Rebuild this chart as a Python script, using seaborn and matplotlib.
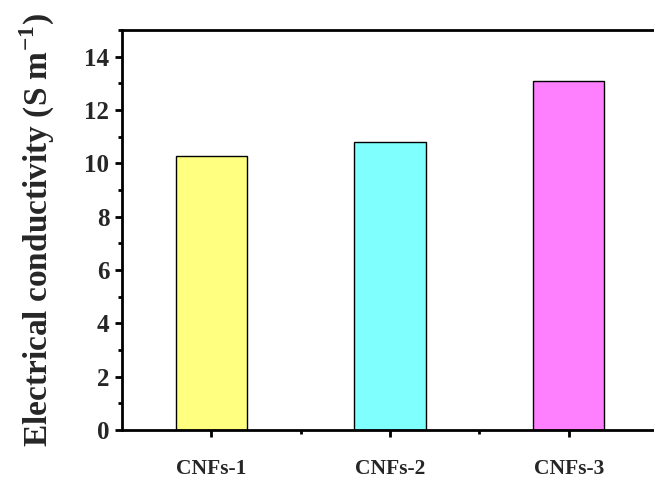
import numpy as np
import matplotlib
matplotlib.use("Agg")
import matplotlib.pyplot as plt
from matplotlib.ticker import MultipleLocator, FixedLocator
import seaborn as sns
import pandas as pd

samples = ["CNFs-1", "CNFs-2", "CNFs-3"]
conductivity = [10.28, 10.80, 13.08]
bar_colors = ["#FFFF80", "#80FFFF", "#FF80FF"]

sns.set_style("ticks")
plt.rcParams['font.family'] = ['Liberation Serif', 'DejaVu Serif']
plt.rcParams['font.weight'] = 'bold'
plt.rcParams['mathtext.fontset'] = 'custom'
plt.rcParams['mathtext.rm'] = 'Liberation Serif:bold'
plt.rcParams['mathtext.bf'] = 'Liberation Serif:bold'

df = pd.DataFrame({"sample": samples, "value": conductivity})

fig = plt.figure(figsize=(6.54, 4.84), dpi=100)
ax = fig.add_axes([0.1865, 0.1116, 0.8196, 0.8264])

sns.barplot(data=df, x="sample", y="value", hue="sample", palette=bar_colors,
            width=0.4, edgecolor="black", linewidth=1.0, saturation=1,
            legend=False, ax=ax)

ax.set_xlim(-0.5, 2.5)
ax.set_ylim(0, 15)
ax.yaxis.set_major_locator(MultipleLocator(2))
ax.yaxis.set_minor_locator(MultipleLocator(1))
ax.xaxis.set_minor_locator(FixedLocator([0.5, 1.5]))

for side in ["top", "right", "left", "bottom"]:
    ax.spines[side].set_visible(True)
    ax.spines[side].set_linewidth(2)
    ax.spines[side].set_color("black")

ax.tick_params(axis="both", which="major", direction="out", length=5, width=2, color="black")
ax.tick_params(axis="both", which="minor", direction="out", length=3, width=2, color="black")
ax.tick_params(axis="y", labelsize=18, pad=4)
ax.tick_params(axis="x", labelsize=15.5, pad=16)
for lab in ax.get_xticklabels() + ax.get_yticklabels():
    lab.set_fontweight("bold")

ax.set_xlabel("")
ax.set_ylabel("Electrical conductivity (S m$^{\\mathbf{-1}}$)", fontsize=24,
              fontweight="bold", labelpad=20)

fig.savefig("out.png", dpi=100)
